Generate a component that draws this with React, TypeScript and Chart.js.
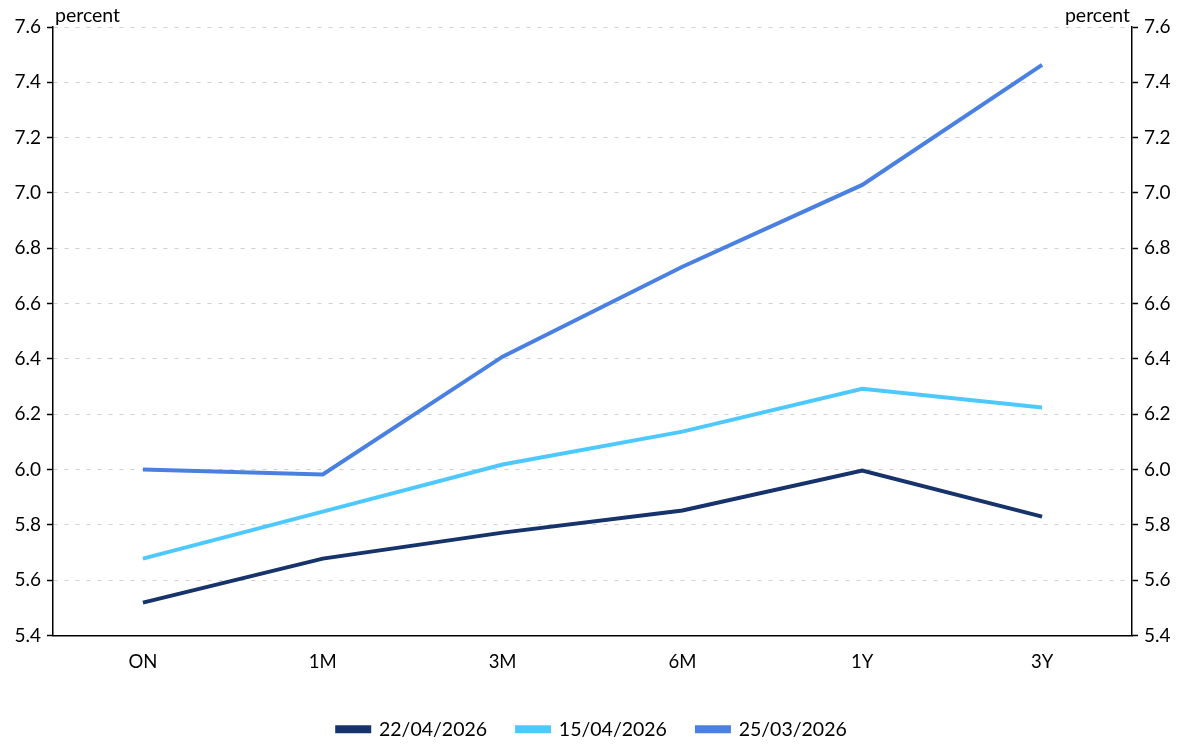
import React, { useEffect, useRef } from "react";
import { Chart, registerables } from "chart.js";

Chart.register(...registerables);

const categories = ["ON", "1M", "3M", "6M", "1Y", "3Y"];
const series22Apr = [5.519, 5.678, 5.772, 5.852, 5.996, 5.830];
const series15Apr = [5.678, 5.848, 6.018, 6.137, 6.292, 6.224];
const series25Mar = [6.000, 5.982, 6.408, 6.733, 7.029, 7.463];
const seriesLabels = ["22/04/2026", "15/04/2026", "25/03/2026"];
const unitLabel = "percent";

const FONT = "Lato, 'Open Sans', sans-serif";

const percentPlugin = {
  id: "percentLabels",
  afterDraw(chart: any) {
    const { ctx, chartArea } = chart;
    ctx.save();
    ctx.font = `19.5px ${FONT}`;
    ctx.fillStyle = "#000";
    ctx.textBaseline = "bottom";
    ctx.textAlign = "left";
    ctx.fillText(unitLabel, chartArea.left + 2, chartArea.top - 2);
    ctx.textAlign = "right";
    ctx.fillText(unitLabel, chartArea.right - 2, chartArea.top - 2);
    ctx.restore();
  },
};

export default function App() {
  const ref = useRef<HTMLCanvasElement>(null);
  useEffect(() => {
    if (!ref.current) return;
    const yCommon = (position: "left" | "right", width: number) => ({
      type: "linear" as const,
      position,
      min: 5.4,
      max: 7.6,
      afterFit(scale: any) {
        scale.width = width;
      },
      ticks: {
        stepSize: 0.2,
        color: "#000",
        font: { size: 19, family: FONT },
        padding: 6,
        callback: (v: any) => Number(v).toFixed(1),
      },
      border: { display: true, color: "#000", width: 1.5, dash: [4, 7] },
      grid: {
        drawOnChartArea: position === "left",
        drawTicks: true,
        tickLength: 6,
        color: "#d0d0d0",
        tickColor: "#000",
        tickBorderDash: [],
        lineWidth: 1,
        tickWidth: 1.5,
      },
    });
    const chart = new Chart(ref.current, {
      type: "line",
      data: {
        labels: categories,
        datasets: [
          { label: seriesLabels[0], data: series22Apr, borderColor: "#17336B", backgroundColor: "#17336B" },
          { label: seriesLabels[1], data: series15Apr, borderColor: "#4DC9FF", backgroundColor: "#4DC9FF" },
          { label: seriesLabels[2], data: series25Mar, borderColor: "#4A80E0", backgroundColor: "#4A80E0" },
        ].map((d) => ({ ...d, borderWidth: 4, pointRadius: 0, tension: 0, yAxisID: "y" })),
      },
      options: {
        animation: false,
        responsive: false,
        maintainAspectRatio: false,
        layout: { padding: { top: 27, bottom: -5, left: 0, right: 0 } },
        plugins: {
          legend: {
            position: "bottom",
            labels: {
              color: "#000",
              font: { size: 19.5, family: FONT },
              boxWidth: 32,
              boxHeight: 4,
              padding: 30,
            },
          },
          tooltip: { enabled: false },
        },
        scales: {
          x: {
            offset: true,
            afterFit(scale: any) {
              scale.height = 54;
            },
            ticks: { color: "#000", font: { size: 18.5, family: FONT }, padding: 15 },
            grid: { display: false, drawTicks: false },
            border: { display: true, color: "#000", width: 1.5 },
          },
          y: { ...yCommon("left", 53) },
          y2: { ...yCommon("right", 52) },
        },
      },
      plugins: [percentPlugin],
    } as any);
    return () => chart.destroy();
  }, []);
  return (
    <div style={{ position: "fixed", left: 0, top: 0, width: 1184, height: 744, background: "#fff" }}>
      <canvas ref={ref} width={1184} height={744} style={{ width: 1184, height: 744 }} />
    </div>
  );
}
